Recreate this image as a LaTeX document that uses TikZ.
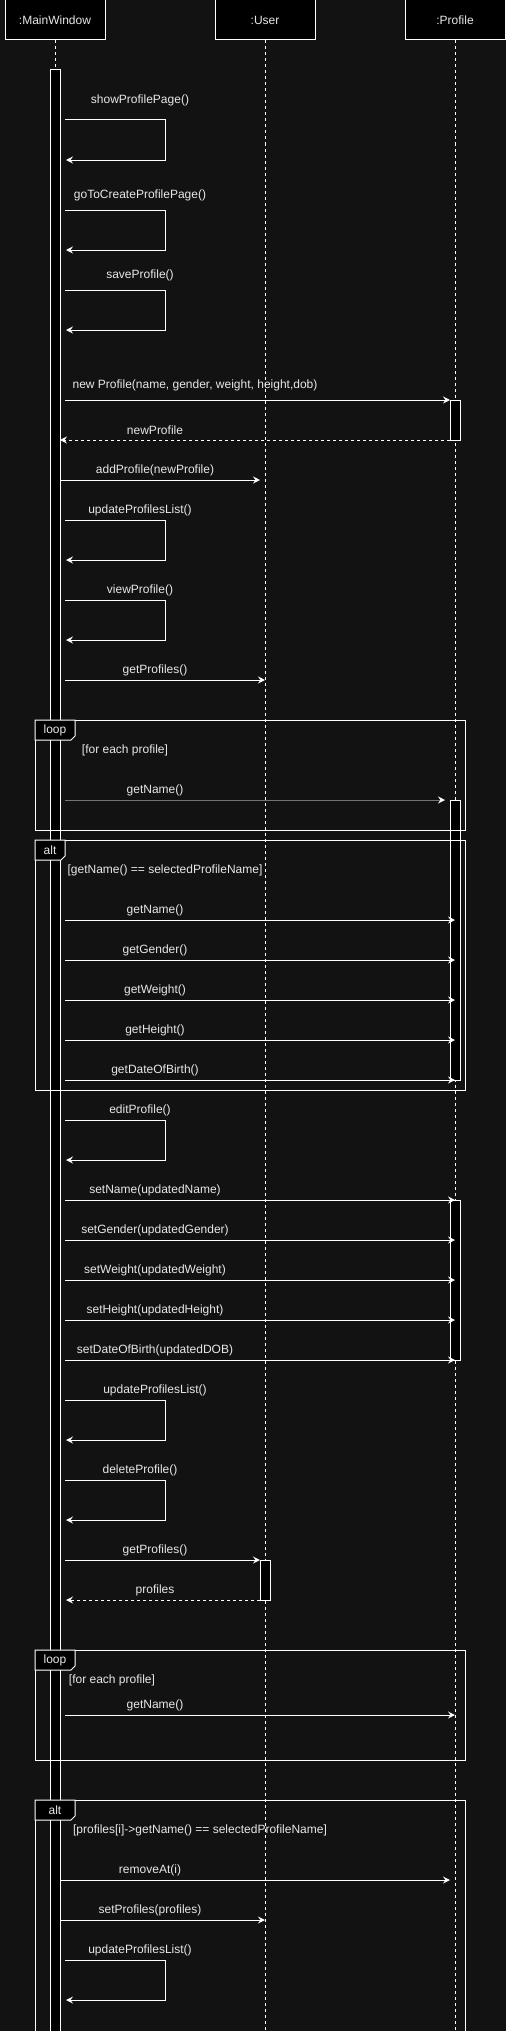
\documentclass[tikz,border=0pt]{standalone}
\usepackage{fontspec}
\setmainfont{Liberation Sans}
\usetikzlibrary{arrows.meta}
\definecolor{bgc}{HTML}{121212}
\definecolor{txt}{HTML}{E8E8E8}

\begin{document}
\begin{tikzpicture}[x=1pt, y=-1pt, line width=1pt,
  font=\fontsize{12}{14}\selectfont,
  hdr/.style={draw=white, fill=black, text=txt, minimum width=100pt,
    minimum height=40pt, inner sep=0pt},
  life/.style={draw=white, dash pattern=on 3pt off 3pt},
  act/.style={draw=white, fill=black},
  msg/.style={draw=white, -{Stealth[length=7pt, width=7pt, inset=2.5pt, color=white]}},
  ret/.style={msg, dash pattern=on 3pt off 3pt},
  lbl/.style={text=txt, inner sep=0pt},
  frm/.style={draw=white},
  tab/.style={draw=white, fill=black}]
  \fill[bgc] (0,0) rectangle (506,2031);
  \useasboundingbox (0,0) rectangle (506,2031);
  %
  \node[hdr] (mw)   at (55,20)  {:MainWindow};
  \node[hdr] (usr)  at (265,20) {:User};
  \node[hdr] (prof) at (455,20) {:Profile};
  \draw[life] (mw.south)   -- (55,2031);
  \draw[life] (usr.south)  -- (265,2031);
  \draw[life] (prof.south) -- (455,2031);
  %
  \draw[act] (50,70) rectangle (60,2040);
  \draw[act] (450,400) rectangle (460,440);
  \draw[act] (450,800) rectangle (460,1080);
  \draw[act] (450,1200) rectangle (460,1360);
  \draw[act] (260,1560) rectangle (270,1600);
  %
  \draw[msg] (65,120) -- (165,120) -- (165,160) -- (66,160);
  \node[lbl] (m1) at (140,100) {showProfilePage()};
  \draw[msg] (65,210) -- (165,210) -- (165,250) -- (66,250);
  \node[lbl] (m2) at (140,195) {goToCreateProfilePage()};
  \draw[msg] (65,290) -- (165,290) -- (165,330) -- (66,330);
  \node[lbl] (m3) at (140,275) {saveProfile()};
  %
  \draw[msg] (65,400) -- (450,400);
  \node[lbl] (m4) at (195,385) {new Profile(name, gender, weight, height,dob)};
  \draw[ret] (450,440) -- (60,440);
  \node[lbl] (m5) at (155,430) {newProfile};
  \draw[msg] (60,480) -- (260,480);
  \node[lbl] (m6) at (155,470) {addProfile(newProfile)};
  %
  \draw[msg] (65,520) -- (165,520) -- (165,560) -- (66,560);
  \node[lbl] (m7) at (140,510) {updateProfilesList()};
  \draw[msg] (65,600) -- (165,600) -- (165,640) -- (66,640);
  \node[lbl] (m8) at (140,590) {viewProfile()};
  \draw[msg] (65,680) -- (265,680);
  \node[lbl] (m9) at (155,670) {getProfiles()};
  %
  \draw[frm] (35,720) rectangle (465,830);
  \draw[tab] (35,720) -- (75,720) -- (75,736) -- (71,740) -- (35,740) -- cycle;
  \node[lbl] (lp1) at (55,730) {loop};
  \node[lbl] (g1) at (125,750) {[for each profile]};
  \draw[msg, draw=white!45!black] (65,800) -- (445,800);
  \node[lbl] (m10) at (155,790) {getName()};
  %
  \draw[frm] (35,840) rectangle (465,1090);
  \draw[tab] (35,840) -- (65,840) -- (65,856) -- (61,860) -- (35,860) -- cycle;
  \node[lbl] (al1) at (50,850) {alt};
  \node[lbl] (g2) at (165,870) {[getName() == selectedProfileName]};
  \draw[msg] (65,920) -- (455,920);
  \node[lbl] (m11) at (155,910) {getName()};
  \draw[msg] (65,960) -- (455,960);
  \node[lbl] (m12) at (155,950) {getGender()};
  \draw[msg] (65,1000) -- (455,1000);
  \node[lbl] (m13) at (155,990) {getWeight()};
  \draw[msg] (65,1040) -- (455,1040);
  \node[lbl] (m14) at (155,1030) {getHeight()};
  \draw[msg] (65,1080) -- (455,1080);
  \node[lbl] (m15) at (155,1070) {getDateOfBirth()};
  %
  \draw[msg] (65,1120) -- (165,1120) -- (165,1160) -- (66,1160);
  \node[lbl] (m16) at (140,1110) {editProfile()};
  \draw[msg] (65,1200) -- (455,1200);
  \node[lbl] (m17) at (155,1190) {setName(updatedName)};
  \draw[msg] (65,1240) -- (455,1240);
  \node[lbl] (m18) at (155,1230) {setGender(updatedGender)};
  \draw[msg] (65,1280) -- (455,1280);
  \node[lbl] (m19) at (155,1270) {setWeight(updatedWeight)};
  \draw[msg] (65,1320) -- (455,1320);
  \node[lbl] (m20) at (155,1310) {setHeight(updatedHeight)};
  \draw[msg] (65,1360) -- (455,1360);
  \node[lbl] (m21) at (155,1350) {setDateOfBirth(updatedDOB)};
  %
  \draw[msg] (65,1400) -- (165,1400) -- (165,1440) -- (66,1440);
  \node[lbl] (m22) at (155,1390) {updateProfilesList()};
  \draw[msg] (65,1480) -- (165,1480) -- (165,1520) -- (66,1520);
  \node[lbl] (m23) at (140,1470) {deleteProfile()};
  \draw[msg] (65,1560) -- (260,1560);
  \node[lbl] (m24) at (155,1550) {getProfiles()};
  \draw[ret] (260,1600) -- (66,1600);
  \node[lbl] (m25) at (155,1590) {profiles};
  %
  \draw[frm] (35,1650) rectangle (465,1760);
  \draw[tab] (35,1650) -- (75,1650) -- (75,1666) -- (71,1670) -- (35,1670) -- cycle;
  \node[lbl] (lp2) at (55,1660) {loop};
  \node[lbl] (g3) at (112,1680) {[for each profile]};
  \draw[msg] (65,1715) -- (455,1715);
  \node[lbl] (m26) at (155,1705) {getName()};
  %
  \draw[frm] (35,2040) -- (35,1800) -- (465,1800) -- (465,2040);
  \draw[tab] (35,1800) -- (75,1800) -- (75,1816) -- (71,1820) -- (35,1820) -- cycle;
  \node[lbl] (al2) at (55,1810) {alt};
  \node[lbl] (g4) at (200,1830) {[profiles[i]->getName() == selectedProfileName]};
  \draw[msg] (60,1880) -- (450,1880);
  \node[lbl] (m27) at (150,1870) {removeAt(i)};
  \draw[msg] (60,1920) -- (265,1920);
  \node[lbl] (m28) at (150,1910) {setProfiles(profiles)};
  \draw[msg] (65,1960) -- (165,1960) -- (165,2000) -- (66,2000);
  \node[lbl] (m29) at (140,1950) {updateProfilesList()};
\end{tikzpicture}
\end{document}
